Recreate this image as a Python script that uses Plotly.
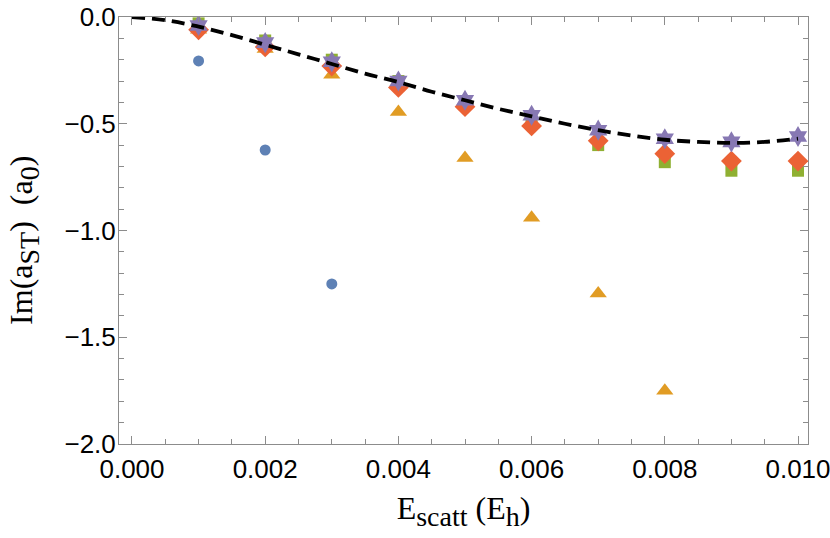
import plotly.graph_objects as go

# scattering energies (E_h)
energy = [0.001, 0.002, 0.003, 0.004, 0.005, 0.006, 0.007, 0.008, 0.009, 0.010]

# Im(a_ST) for each basis / method
im_blue = [-0.206, -0.623, -1.250]
im_orange = [-0.06, -0.15, -0.27, -0.445, -0.66, -0.94, -1.295, -1.75]
im_green = [-0.03, -0.11, -0.20, -0.30, -0.40, -0.50, -0.60, -0.68, -0.72, -0.72]
im_red = [-0.06, -0.14, -0.23, -0.33, -0.42, -0.51, -0.58, -0.64, -0.675, -0.675]
im_purple = [-0.04, -0.12, -0.21, -0.30, -0.39, -0.46, -0.53, -0.57, -0.585, -0.56]

# reference curve (dashed)
curve_e = [0.0, 0.0005, 0.001, 0.0015, 0.002, 0.0025, 0.003, 0.0035, 0.004, 0.0045,
           0.005, 0.0055, 0.006, 0.0065, 0.007, 0.0075, 0.008, 0.0085, 0.009, 0.0095, 0.010]
curve_im = [0.0, -0.015, -0.045, -0.085, -0.13, -0.175, -0.22, -0.265, -0.305, -0.35,
            -0.39, -0.43, -0.465, -0.50, -0.53, -0.555, -0.575, -0.585, -0.59, -0.585, -0.57]

x_ticks = [0, 0.002, 0.004, 0.006, 0.008, 0.010]
x_labels = ["0.000", "0.002", "0.004", "0.006", "0.008", "0.010"]
y_ticks = [0, -0.5, -1, -1.5, -2]
y_labels = ["0.0", "\u22120.5", "\u22121.0", "\u22121.5", "\u22122.0"]

fig = go.Figure()

fig.add_trace(go.Scatter(x=energy[:len(im_blue)], y=im_blue, mode="markers",
                         marker=dict(symbol="circle", size=11, color="#5E81B5")))
fig.add_trace(go.Scatter(x=energy[:len(im_orange)], y=im_orange, mode="markers",
                         marker=dict(symbol="triangle-up", size=15, color="#E19C24")))
fig.add_trace(go.Scatter(x=energy, y=im_green, mode="markers",
                         marker=dict(symbol="square", size=12, color="#8FB032")))
fig.add_trace(go.Scatter(x=energy, y=im_red, mode="markers",
                         marker=dict(symbol="diamond", size=16, color="#EB6235")))
fig.add_trace(go.Scatter(x=energy, y=im_purple, mode="markers",
                         marker=dict(symbol="hexagram", size=16, color="#8778B3")))
fig.add_trace(go.Scatter(x=curve_e, y=curve_im, mode="lines", line_shape="spline",
                         line=dict(color="black", width=3.8, dash="13px,7px")))

axis_common = dict(
    showline=True, linecolor="#8c8c8c", linewidth=1, mirror="ticks",
    ticks="inside", ticklen=8, tickcolor="#8c8c8c", tickwidth=1,
    showgrid=False, zeroline=False, automargin=False, ticklabeloverflow="allow",
    tickfont=dict(family="Liberation Sans, Arial", size=26, color="black"),
)
title_font = dict(family="Liberation Serif, Times New Roman", size=32, color="black")
sub = "<sub><span style='font-size:28px'>%s</span></sub>"

fig.update_layout(
    width=830, height=538,
    plot_bgcolor="white", paper_bgcolor="white",
    showlegend=False,
    margin=dict(l=119, r=22, t=17, b=94),
    xaxis=dict(
        axis_common, range=[-0.000195, 0.01015],
        tickvals=x_ticks, ticktext=x_labels, ticklabelstandoff=2,
        minor=dict(dtick=0.0005, ticks="inside", ticklen=5, tickcolor="#8c8c8c", showgrid=False),
        title=dict(text="E" + sub % "scatt" + " (E" + sub % "h" + ")", standoff=13, font=title_font),
    ),
    yaxis=dict(
        axis_common, range=[-2, 0],
        tickvals=y_ticks, ticktext=y_labels, ticklabelstandoff=-3,
        minor=dict(dtick=0.1, ticks="inside", ticklen=5, tickcolor="#8c8c8c", showgrid=False),
    ),
    annotations=[dict(
        text="Im(a" + sub % "ST" + ")\u2002(a" + sub % "0" + ")",
        xref="paper", yref="paper", x=-0.1379, y=0.478,
        xanchor="center", yanchor="middle", textangle=-90,
        showarrow=False, font=title_font,
    )],
)

# drop the default 8px body margin so the figure sits at the page corner
fig.write_html("out.html", config={"displayModeBar": False},
               post_script="document.body.style.margin = '0';")
